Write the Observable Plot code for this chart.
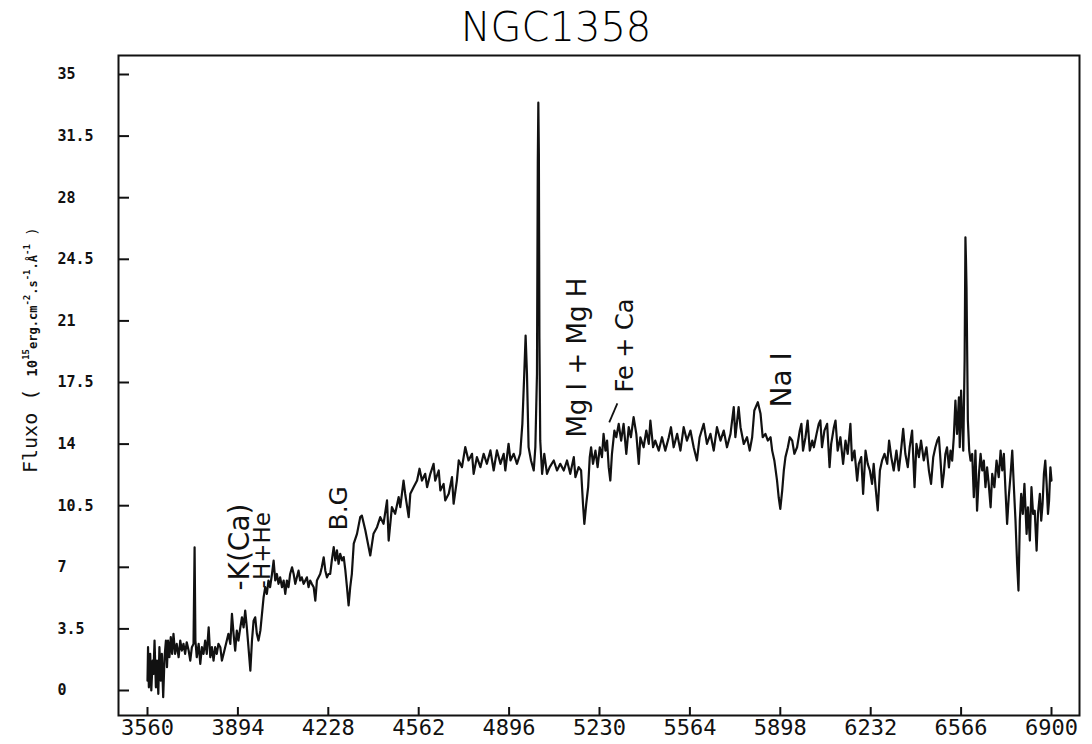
<!DOCTYPE html>
<html>
<head>
<meta charset="utf-8">
<script src="https://cdn.jsdelivr.net/npm/d3@7"></script>
<script src="https://cdn.jsdelivr.net/npm/@observablehq/plot@0.6"></script>
<style>
  body { margin: 0; background: #fff; }
  #chart svg { display: block; }
  #chart svg text { font-variant-numeric: slashed-zero; }
</style>
</head>
<body>
<div id="chart"></div>
<script>
// Optical spectrum of NGC 1358: wavelength (Å) and flux (10^-15 erg cm^-2 s^-1 Å^-1)
const wavelength = [
  3560,3562,3565,3570,3574,3579,3582,3586,3591,3595,3600,3604,3609,3613,3618,3623,3628,3632,3636,3641,
  3646,3651,3656,3662,3668,3675,3681,3687,3693,3699,3705,3712,3718,3724,3730,3734,3737,3742,3749,3755,
  3761,3767,3773,3779,3786,3792,3798,3804,3810,3816,3822,3829,3835,3841,3847,3853,3859,3866,3872,3878,
  3884,3890,3896,3903,3909,3915,3921,3927,3933,3940,3946,3952,3958,3964,3970,3977,3983,3989,3995,4001,
  4007,4013,4020,4026,4032,4038,4044,4050,4057,4063,4069,4075,4081,4087,4094,4100,4106,4112,4118,4124,
  4130,4137,4143,4149,4155,4161,4167,4174,4180,4186,4192,4198,4204,4211,4217,4223,4229,
  4235,4241,4248,4254,4260,4266,4272,4279,4285,4291,4297,4303,4309,4315,4322,4334,4346,4352,4365,4383,
  4395,4408,4420,4432,4445,4451,4463,4475,4488,4494,4506,4512,4525,4531,4543,4556,4565,4574,4586,4593,
  4605,4617,4623,4636,4642,4654,4660,4673,4685,4691,4703,4710,4722,4734,4746,4759,4765,4777,4790,4802,
  4814,4827,4839,4851,4864,4876,4882,4894,4901,4913,4925,4937,4945,4952,4957,4962,4968,4977,4987,4993,
  4999,5002,5004,5006,5008,5011,5018,5026,5036,5046,
  5061,5073,5085,5098,5110,5122,5135,5141,5153,5162,5169,5174,5181,5188,5194,5199,5206,5215,5223,5231,
  5239,5245,5252,5258,5264,5270,5276,5285,5292,5301,5310,5319,5329,5338,5346,5356,5366,5375,5381,5393,
  5403,5412,5418,5428,5436,5449,5461,5473,5486,5494,5504,5517,5529,5541,5553,5566,5578,5590,5600,5615,
  5627,5640,5652,5664,5677,5689,5701,5714,5726,5732,5744,
  5751,5763,5775,5785,5794,5802,5815,5825,5833,5843,5852,5862,5868,5876,5886,5892,5898,5905,5911,5917,
  5926,5933,5942,5950,5960,5970,5976,5982,5991,5999,6007,6016,6022,6032,6040,6046,6052,6061,6071,6080,
  6086,6096,6102,6110,6120,6130,6139,6147,6157,6163,6172,6182,6188,6197,6204,6213,6221,6229,6237,6243,
  6250,6258,6266,6274,6283,6293,6300,6308,6317,6327,6336,6344,6352,6360,6369,6376,6385,6394,6401,6410,
  6418,6428,6438,6447,
  6455,6463,6471,6478,6484,6490,6496,6502,6508,6514,6521,6527,6533,6539,6545,6551,6558,6561,6566,6574,
  6579,6582,6584,6586,6591,6596,6601,6607,6613,6619,6625,6632,6638,6644,6650,6656,6662,6668,6675,6681,
  6689,6697,6705,6712,6718,6724,6730,6736,6742,6749,6755,6761,6767,6773,6778,6783,6788,6794,6800,6808,
  6813,6820,6826,6832,6838,6845,6850,6857,6862,6867,6872,6877,6882,6887,6891,6896,6900
];
const flux = [
  0.56,2.46,0.18,2.08,0.00,1.70,0.94,2.84,0.18,1.70,-0.19,2.46,0.56,2.08,-0.38,1.89,2.84,1.32,2.84,1.89,
  3.03,2.08,3.22,2.08,2.65,1.89,2.84,2.27,2.65,2.08,2.74,2.27,1.70,2.46,2.65,8.14,2.84,1.89,2.65,1.51,
  2.46,2.08,2.84,2.08,3.59,1.89,2.46,1.70,2.46,2.08,2.65,2.46,1.70,2.08,2.46,2.84,3.22,2.65,4.35,3.22,
  2.27,3.40,2.84,3.59,4.16,3.59,4.54,3.59,2.46,1.13,2.84,3.97,4.16,3.22,2.84,3.40,4.35,5.30,5.87,5.49,
  6.25,5.87,6.62,7.38,6.25,6.62,6.06,6.43,5.87,6.25,5.49,6.25,5.87,6.62,7.00,6.62,6.06,6.43,6.81,6.25,
  6.43,6.06,6.25,6.43,5.87,6.25,6.06,5.87,5.11,6.25,6.43,6.62,7.00,7.57,6.81,6.43,6.62,
  6.63,7.39,8.15,7.39,7.96,7.20,7.77,7.39,7.58,6.82,5.87,4.83,5.87,6.63,8.34,8.90,9.85,9.94,9.09,7.67,
  8.90,9.28,9.85,9.47,10.80,8.52,10.42,10.04,10.99,10.42,11.93,11.18,9.85,11.18,11.55,11.93,12.60,11.93,12.31,11.55,
  12.31,12.88,11.93,12.50,11.37,11.74,10.80,11.18,12.12,10.61,11.93,13.07,12.69,13.83,13.07,13.45,12.31,13.26,12.69,13.45,
  12.88,13.64,12.50,13.64,12.88,13.45,12.50,14.02,13.07,13.45,12.88,13.45,15.15,17.99,20.17,17.99,13.83,13.07,12.50,13.83,
  17.99,30.00,33.40,30.50,20.00,14.21,12.31,13.45,12.31,12.69,
  13.07,12.50,12.88,12.50,13.07,12.31,13.26,12.12,12.69,12.50,10.60,9.47,10.60,11.55,13.26,13.82,12.88,13.63,12.69,13.82,
  13.26,14.58,13.63,14.20,12.69,11.93,13.45,14.77,14.39,15.15,14.20,15.15,13.45,14.96,14.39,15.53,14.58,12.88,14.39,13.82,
  14.77,14.01,15.34,13.82,14.20,13.63,14.39,13.63,14.39,14.96,13.82,14.58,13.63,14.96,14.20,14.77,13.82,13.07,14.39,15.15,
  14.01,14.58,13.63,14.96,14.20,14.77,13.82,14.58,16.10,14.39,16.10,
  14.96,14.01,14.39,13.63,14.39,15.91,16.38,15.72,14.39,14.58,14.20,14.39,13.63,13.07,11.93,10.98,10.32,11.36,12.50,13.26,
  13.82,14.39,14.20,13.45,13.82,14.77,15.15,13.63,14.39,15.34,13.63,14.20,13.82,14.58,15.15,15.34,13.82,14.77,15.15,12.69,
  14.01,14.96,15.34,13.63,14.39,12.88,14.20,13.45,15.15,13.07,13.63,11.93,12.88,13.26,11.17,13.63,12.88,12.50,11.74,12.88,
  11.55,10.23,12.50,13.07,13.45,12.88,14.20,13.26,12.50,13.63,12.50,13.63,14.87,13.45,12.69,13.82,14.77,11.55,14.01,13.26,
  14.20,13.07,13.82,12.50,
  11.74,13.25,13.82,14.20,14.39,13.06,11.55,12.31,13.44,13.82,12.68,13.63,13.06,14.39,16.47,14.58,16.66,13.82,17.04,13.63,
  18.75,25.75,24.50,22.91,15.34,13.63,13.06,13.44,10.98,13.63,10.22,12.31,13.44,12.50,13.06,11.55,12.68,11.74,10.41,12.31,
  11.55,13.06,12.12,13.63,12.50,13.44,11.36,9.47,10.98,12.31,13.63,11.55,9.65,7.20,5.68,9.65,11.17,10.03,11.74,8.90,
  10.41,8.52,11.55,10.03,10.22,7.95,10.03,11.17,9.65,10.60,12.31,13.06,11.74,10.03,10.79,12.68,11.93
];

// Axis ticks
const xTicks = [3560, 3894, 4228, 4562, 4896, 5230, 5564, 5898, 6232, 6566, 6900];
const yTicks = [0, 3.5, 7, 10.5, 14, 17.5, 21, 24.5, 28, 31.5, 35];

// Line identifications (anchored at the lower end of each rotated label)
const lineLabels = ["-K(Ca)", "-H+He", "B.G", "Mg I + Mg H", "Fe + Ca", "Na I"];
const lineLabelWavelength = [3903, 3986, 4268, 5148, 5326, 5906];
const lineLabelFlux = [5.68, 5.8, 9.09, 14.37, 16.93, 16.08];

// Leader stroke next to the Fe + Ca label
const leader = [{w1: 5266, f1: 15.23, w2: 5296, f2: 16.31}];

const title = "NGC1358";

const spectrum = wavelength.map((w, i) => ({w, f: flux[i]}));
const labels = lineLabels.map((t, i) => ({t, w: lineLabelWavelength[i], f: lineLabelFlux[i]}));
const labelSize = [28, 23, 25, 26, 24, 28];

const W = 1092, H = 744;
const mL = 118, mR = 13, mT = 55, mB = 29;
const frameW = W - mL - mR, frameH = H - mT - mB;
const ink = "#111";

const chart = Plot.plot({
  width: W,
  height: H,
  marginLeft: mL,
  marginRight: mR,
  marginTop: mT,
  marginBottom: mB,
  x: {domain: [3560, 6900], insetLeft: 29, insetRight: 28, axis: null},
  y: {domain: [0, 35], insetTop: 19, insetBottom: 25, axis: null},
  style: {background: "#fff", color: ink},
  marks: [
    Plot.frame({stroke: ink, strokeWidth: 2}),
    // inward tick marks
    Plot.tickX(xTicks, {x: d => d, stroke: ink, strokeWidth: 2, insetTop: frameH - 8}),
    Plot.tickY(yTicks, {y: d => d, stroke: ink, strokeWidth: 2, insetRight: frameW - 11}),
    // tick labels
    Plot.text(xTicks, {
      x: d => d, text: d => String(d), frameAnchor: "bottom", lineAnchor: "middle", dy: 12,
      fontFamily: "DejaVu Sans Mono", fontSize: 22, fill: ink
    }),
    Plot.text(yTicks, {
      y: d => d, text: d => String(d), frameAnchor: "left", dx: -61, textAnchor: "start",
      fontFamily: "DejaVu Sans Mono", fontWeight: "bold", fontSize: 15, fill: ink
    }),
    // spectrum
    Plot.line(spectrum, {x: "w", y: "f", stroke: ink, strokeWidth: 2.2, strokeLinejoin: "round"}),
    // line identifications
    ...labels.map((d, i) => Plot.text([d], {
      x: "w", y: "f", text: "t", rotate: -90, textAnchor: "start",
      fontFamily: "DejaVu Sans", fontSize: labelSize[i], fill: ink
    })),
    Plot.link(leader, {x1: "w1", y1: "f1", x2: "w2", y2: "f2", stroke: ink, strokeWidth: 1.8}),
    // title
    Plot.text([title], {
      text: d => d, frameAnchor: "top", lineAnchor: "middle", dx: -43, dy: -27,
      fontFamily: "DejaVu Sans", fontWeight: 200, fontSize: 40, fill: "#000"
    })
  ]
});

// rotated y-axis title with superscripts
const svg = d3.select(chart);
const yt = svg.append("text")
  .attr("transform", "translate(37,473) rotate(-90)")
  .attr("text-anchor", "start")
  .attr("fill", ink)
  .attr("font-family", "DejaVu Sans Mono");
yt.append("tspan").attr("font-size", 20).text("Fluxo ( ");
yt.append("tspan").attr("font-size", 14).attr("font-weight", "bold").text("10");
yt.append("tspan").attr("font-size", 9).attr("font-weight", "bold").attr("dy", -8).text("15");
yt.append("tspan").attr("font-size", 12).attr("font-weight", "bold").attr("dy", 8).text("erg.cm");
yt.append("tspan").attr("font-size", 9).attr("font-weight", "bold").attr("dy", -7).text("-2");
yt.append("tspan").attr("font-size", 12).attr("font-weight", "bold").attr("dy", 7).text(".s");
yt.append("tspan").attr("font-size", 9).attr("font-weight", "bold").attr("dy", -7).text("-1");
yt.append("tspan").attr("font-size", 12).attr("font-weight", "bold").attr("dy", 7).text(".Å");
yt.append("tspan").attr("font-size", 9).attr("font-weight", "bold").attr("dy", -7).text("-1");
yt.append("tspan").attr("font-size", 14).attr("dy", 7).text(" )");

document.getElementById("chart").appendChild(chart);
</script>
</body>
</html>
